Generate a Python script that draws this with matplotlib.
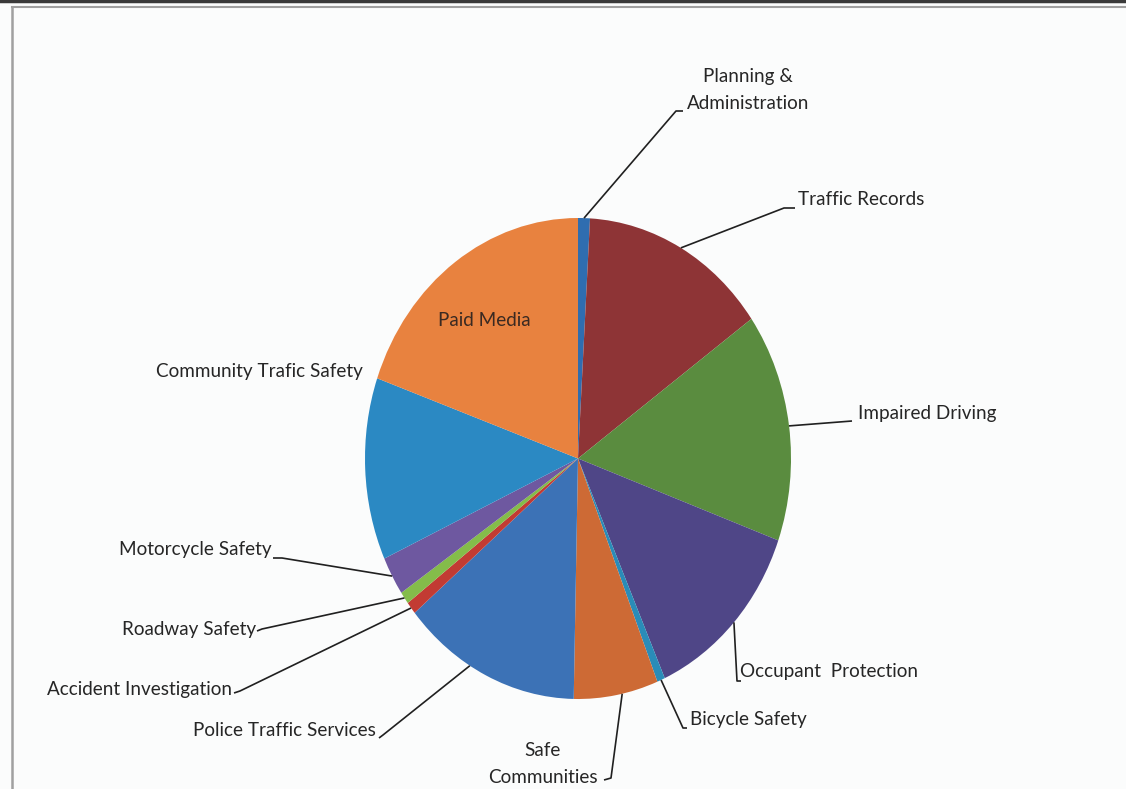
import numpy as np
import matplotlib
matplotlib.use("Agg")
from matplotlib import pyplot as plt

# Highway safety budget shares by program area (percent)
programs = ["Planning &\nAdministration", "Traffic Records", "Impaired Driving",
            "Occupant  Protection", "Bicycle Safety", "Safe\nCommunities",
            "Police Traffic Services", "Accident Investigation", "Roadway Safety",
            "Motorcycle Safety", "Community Trafic Safety", "Paid Media"]
shares = [0.9, 14.25, 15.4, 12.8, 0.6, 6.4, 13.6, 0.83, 0.83, 2.6, 12.25, 19.6]
colors = ["#2f6db0", "#8e3436", "#5a8c3f", "#4f4687", "#2a8cb8", "#cd6a35",
          "#3c72b6", "#c23b33", "#84bc4a", "#6e58a0", "#2b89c3", "#e8823f"]

W, H = 1126, 789
fig = plt.figure(figsize=(W / 100, H / 100), dpi=100)
fig.patch.set_facecolor("#fbfcfc")

ax = fig.add_axes([0, 0, 1, 1])
wedges, _ = ax.pie(shares, colors=colors, startangle=90, counterclock=False,
                   radius=1, center=(0, 0), wedgeprops=dict(linewidth=0))
# scanned page is stretched vertically, so the pie is an ellipse
ax.set_aspect("auto")
ax.set_xlim(-578 / 213, (W - 578) / 213)
ax.set_ylim((458.5 - H) / 240.5, 458.5 / 240.5)
ax.axis("off")

# overlay in pixel coordinates for labels, leaders and frame
ov = fig.add_axes([0, 0, 1, 1], facecolor="none")
ov.set_xlim(0, W)
ov.set_ylim(H, 0)
ov.axis("off")

to_px = ax.transData + ov.transData.inverted()


def edge_point(w, frac=0.5):
    # point on the rim of wedge w, frac of the way through its angle
    a = np.deg2rad(w.theta1 + frac * (w.theta2 - w.theta1))
    return to_px.transform((np.cos(a), np.sin(a)))


font = dict(family=["Lato", "DejaVu Sans"], fontsize=13.6, color="#262626")
lc = dict(color="#202020", lw=1.2, solid_capstyle="butt")

# label text: (x, y, ha), leader elbow points, where the leader meets the wedge
labels = {
    0: ((748, 90), "center", [(676, 111), (683, 111)], 0.5),
    1: ((798, 199), "left", [(784, 208), (795, 208)], 0.5),
    2: ((858, 413), "left", [(852, 421)], 0.5),
    3: ((740, 672), "left", [(737, 681), (741, 681)], 0.5),
    4: ((690, 720), "left", [(683, 728), (687, 728)], 0.5),
    5: ((543, 764), "center", [(611, 778), (604, 780)], 0.57),
    6: ((376, 731), "right", [(383, 735), (379, 738)], 0.4),
    7: ((232, 689), "right", [(240, 691), (234, 693)], 0.5),
    8: ((256, 630), "right", [(262, 629), (257, 631)], 0.5),
    9: ((272, 549), "right", [(282, 558), (273, 558)], 0.5),
}

for i, ((tx, ty), ha, pts, frac) in labels.items():
    sx, sy = edge_point(wedges[i], frac)
    xs = [sx] + [p[0] for p in pts]
    ys = [sy] + [p[1] for p in pts]
    ov.plot(xs, ys, **lc)
    ov.text(tx, ty, programs[i], ha=ha, va="center", linespacing=1.75, **font)

ov.text(363, 371, programs[10], ha="right", va="center", **font)
ov.text(484, 320, programs[11], ha="center", va="center",
        **{**font, "color": "#3a2a22"})

# page frame
ov.plot([0, W], [1, 1], color="#3a3a3a", lw=2.5)
ov.plot([12, W], [7, 7], color="#a0a0a0", lw=1.5)
ov.plot([12, 12], [7, H], color="#a0a0a0", lw=1.8)

fig.savefig("out.png", dpi=100, facecolor=fig.get_facecolor())
